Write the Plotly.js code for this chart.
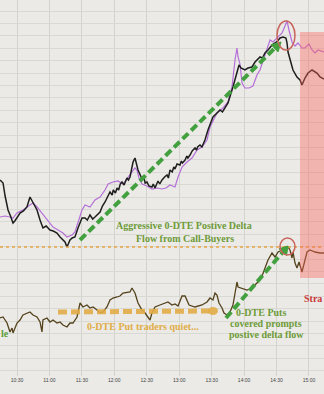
<!DOCTYPE html>
<html>
<head>
<meta charset="utf-8">
<script src="https://cdn.plot.ly/plotly-3.0.1.min.js"></script>
<style>html,body{margin:0;padding:0;background:#ebeae6;}#chart{width:324px;height:394px;}</style>
</head>
<body>
<div id="chart"></div>
<script>
// Time axis: minutes since midnight
const tickVals = [630, 660, 690, 720, 750, 780, 810, 840, 870, 900];
const tickText = ['10:30', '11:00', '11:30', '12:00', '12:30', '13:00', '13:30', '14:00', '14:30', '15:00'];

// Top panel: index (black)
const tBlack = [614.3,617.1,619.0,621.7,624.0,626.3,628.0,630.0,632.8,636.0,639.2,642.0,644.8,646.5,648.5,651.3,654.0,657.0,660.5,663.5,667.0,669.8,672.0,674.4,676.2,679.0,681.0,683.6,686.4,690.1,692.9,695.0,697.5,700.0,702.1,706.8,709.0,711.4,716.0,718.0,719.0,721.0,722.5,724.0,725.5,727.1,729.0,731.7,733.0,734.5,737.3,739.1,741.9,745.6,747.0,748.5,750.2,752.0,754.8,756.0,757.6,760.4,762.0,764.1,766.5,768.7,770.0,771.5,773.5,775.0,776.1,778.0,780.7,782.0,783.0,785.4,787.0,788.0,790.0,792.0,794.6,796.0,797.0,799.2,801.0,803.8,806.6,809.0,811.2,814.0,817.7,820.0,822.3,825.1,829.7,833.4,835.3,837.1,840.8,843.6,847.3,850.1,854.7,857.0,859.3,862.1,865.8,868.6,871.0,873.2,876.0,878.7,879.7,880.6,882.4,885.2,888.9,891.7,893.5,896.3,899.1,902.8,907.4,910.2,913.9];
const vBlack = [196,193,180,166,160,153,155,158,163,165,169,179,174,170,166,156,148,150,146,145,143,139,137,134,129,136,138,139,148,158,158,156,161,157,159,164,170,174,184,181,186,183,188,186,192,194,191,198,196,199,214,218,206,197,200,193,194,190,189,192,188,195,192,196,199,201,198,206,204,209,207,212,211,215,213,216,220,218,221,225,228,226,229,231,229,236,246,252,259,262,266,264,268,273,289,304,311,308,306,308,309,314,319,318,323,326,331,333,335,338,339,338,333,324,316,306,299,296,291,298,303,306,303,299,297];

// Top panel: comparison series (purple)
const tPurple = [614.3,618.9,623.5,626.3,630.0,635.5,642.0,644.8,648.5,653.1,657.7,663.3,667.9,672.5,676.2,680.9,683.6,686.4,690.1,692.9,697.5,702.1,706.8,711.4,714.2,718.8,723.4,728.0,732.6,736.3,739.1,741.0,742.8,745.6,750.2,754.8,759.5,764.1,767.8,771.5,776.1,778.9,782.6,787.2,791.8,796.5,801.1,805.7,808.5,814.9,820.5,825.1,828.8,831.6,833.4,834.4,836.2,838.1,840.8,844.5,848.2,851.9,854.7,859.3,862.1,864.0,866.7,870.4,875.1,877.8,879.7,881.5,884.3,887.1,889.8,893.5,896.3,900.0,902.8,905.6,908.3,913.9];
const vPurple = [159,160,159,158,163,166,171,173,169,163,156,149,146,143,139,141,144,153,166,171,169,176,179,186,192,194,195,192,199,204,208,206,198,192,190,187,188,187,188,191,189,199,209,214,218,226,229,236,249,263,268,274,289,316,328,319,312,293,288,288,290,301,306,321,331,336,334,338,343,350,355,346,334,330,333,328,328,332,326,323,326,324];

// Bottom panel: 0-DTE delta flow
const tFlow = [614.3,617.1,620.8,623.5,625.4,626.3,630.0,632.8,635.5,639.2,642.0,644.8,648.5,651.3,653.1,654.0,657.7,660.5,663.3,667.0,669.8,672.5,676.2,679.0,681.8,685.5,686.4,688.3,691.0,694.7,697.5,700.3,704.0,706.8,709.5,713.2,716.0,718.8,722.5,725.2,728.0,734.5,736.3,739.1,741.9,745.6,748.4,751.1,753.0,754.8,757.6,762.2,766.9,769.6,773.3,776.1,778.9,782.6,785.4,789.1,794.6,801.1,805.7,808.5,811.2,813.1,814.9,816.8,819.6,821.4,824.2,827.0,829.7,831.6,833.4,834.4,838.1,842.7,847.3,851.9,856.6,859.3,862.1,865.8,868.6,871.4,875.1,877.8,880.6,882.4,884.3,885.2,887.1,888.9,890.8,893.5,894.5,896.3,898.2,900.9,905.6,910.2,913.9];
const vFlow = [58,59,53,44,48,43,53,56,61,63,64,61,59,54,44,56,58,54,56,53,54,51,49,53,53,59,63,73,69,71,68,69,66,63,64,69,76,78,79,80,83,84,88,83,73,66,63,59,56,63,69,71,73,74,71,72,70,80,80,71,69,71,74,78,76,83,81,73,68,63,61,64,71,81,94,89,88,86,88,93,100,108,116,123,119,124,126,129,129,126,118,124,113,108,114,104,108,118,124,126,124,123,123];

// helpers for annotation placement (plot area = 324 x 376 px)
const X = px => 614.28 + 0.9247 * px;
const Y = py => 376 - py;

function dashedArrow(x0, y0, x1, y1, color, width, dash, hl, hw) {
  const dx = x1 - x0, dy = y1 - y0, L = Math.hypot(dx, dy);
  const ux = dx / L, uy = dy / L, nx = -uy, ny = ux;
  const bx = x1 - hl * ux, by = y1 - hl * uy;
  const p1 = [bx + hw * nx, by + hw * ny], p2 = [bx - hw * nx, by - hw * ny];
  return [
    {type: 'line', xref: 'x', yref: 'y', x0: X(x0), y0: Y(y0), x1: X(bx), y1: Y(by),
     line: {color: color, width: width, dash: dash}},
    {type: 'path', xref: 'x', yref: 'y',
     path: `M${X(x1)},${Y(y1)} L${X(p1[0])},${Y(p1[1])} L${X(p2[0])},${Y(p2[1])} Z`,
     fillcolor: color, line: {color: color, width: 1}}
  ];
}

const green = '#42a03f';
const shapes = [
  // orange dotted reference level
  {type: 'line', xref: 'paper', yref: 'y', x0: 0, x1: 1, y0: Y(247), y1: Y(247),
   line: {color: '#e6a443', width: 1.5, dash: 'dot'}},
  // orange thick dashed "quiet" line
  {type: 'line', xref: 'x', yref: 'y', x0: X(58), y0: Y(312), x1: X(211), y1: Y(311),
   line: {color: 'rgba(226,172,70,0.9)', width: 5, dash: '9px,4px'}},
  {type: 'circle', xref: 'x', yref: 'y', x0: X(208), x1: X(218), y0: Y(307), y1: Y(315),
   fillcolor: 'rgba(226,172,70,0.9)', line: {width: 0}},
  ...dashedArrow(80, 240, 281, 42, green, 4, '8px,4px', 9, 5),
  ...dashedArrow(226, 318, 288, 246, green, 4, '8px,4px', 8, 5),
  // red circles
  {type: 'circle', xref: 'x', yref: 'y', x0: X(277), x1: X(295), y0: Y(21), y1: Y(50),
   line: {color: '#c8645c', width: 1.5}},
  {type: 'circle', xref: 'x', yref: 'y', x0: X(280), x1: X(295), y0: Y(238), y1: Y(255),
   line: {color: '#c8645c', width: 1.5}},
  // pink shaded region
  {type: 'rect', xref: 'paper', yref: 'y', x0: 300 / 324, x1: 1, y0: Y(278), y1: Y(32),
   fillcolor: 'rgba(253,100,90,0.4)', line: {width: 0}, layer: 'above'}
];

const txtFont = (c, s) => ({family: 'Liberation Serif, DejaVu Serif, serif', size: s, color: c});
const ann = (px, py, text, color, anchor) => ({
  xref: 'paper', yref: 'paper', x: px / 324, y: 1 - py / 376, text: '<b>' + text + '</b>',
  showarrow: false, xanchor: anchor || 'center', yanchor: 'middle',
  font: txtFont(color, 10)
});
const gText = '#6e9b3a';
const annotations = [
  ann(184, 225, 'Aggressive 0-DTE Postive Delta', gText),
  ann(185, 238, 'Flow from Call-Buyers', gText),
  ann(143, 326, '0-DTE Put traders quiet...', '#e0ad48'),
  ann(261, 312, '0-DTE Puts', gText),
  ann(266, 323, 'covered prompts', gText),
  ann(266, 334, 'postive delta flow', gText),
  ann(-1, 333, 'le', '#5aa03a', 'left'),
  ann(302, 298, 'Stra', '#c83a3a', 'left')
];

const traces = [
  {x: tPurple, y: vPurple, type: 'scatter', mode: 'lines', line: {color: '#b46fd8', width: 1.2}, hoverinfo: 'skip'},
  {x: tBlack, y: vBlack, type: 'scatter', mode: 'lines', line: {color: '#1e1e1e', width: 1.5}, hoverinfo: 'skip'},
  {x: tFlow, y: vFlow, type: 'scatter', mode: 'lines', line: {color: '#54421c', width: 1.3}, hoverinfo: 'skip'}
];

const layout = {
  width: 324, height: 394,
  margin: {l: 0, r: 0, t: 0, b: 18},
  paper_bgcolor: '#ebeae6', plot_bgcolor: '#ebeae6',
  showlegend: false,
  xaxis: {range: [614.28, 913.88], tickmode: 'array', tickvals: tickVals, ticktext: tickText,
          showgrid: true, gridcolor: '#d4d4cf', gridwidth: 1, zeroline: false, showline: false,
          ticks: '', tickfont: {family: 'Liberation Sans, Arial, sans-serif', size: 5, color: '#444'}, fixedrange: true},
  yaxis: {range: [0, 376], tick0: 365, dtick: 12.4, showgrid: true, gridcolor: '#d9d9d4', gridwidth: 1,
          showticklabels: false, zeroline: false, showline: false, ticks: '', fixedrange: true},
  shapes: shapes,
  annotations: annotations
};

Plotly.newPlot('chart', traces, layout, {staticPlot: true, displayModeBar: false});
</script>
</body>
</html>
